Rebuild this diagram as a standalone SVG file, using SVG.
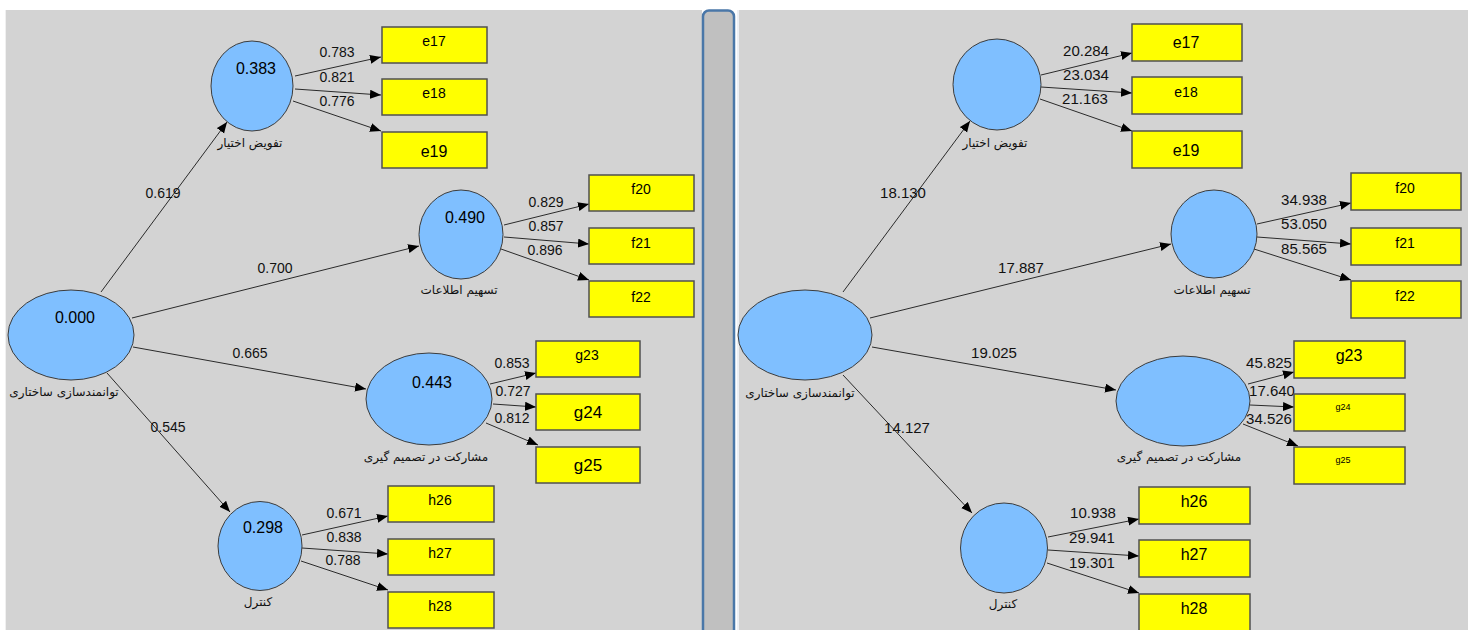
<svg xmlns="http://www.w3.org/2000/svg" width="1472" height="630" viewBox="0 0 1472 630">
<defs>
<marker id="arr" markerUnits="userSpaceOnUse" markerWidth="12" markerHeight="10" refX="11" refY="4.5" orient="auto">
<path d="M0,0 L11,4.5 L0,9 z" fill="#000"/>
</marker>
<style>
.panel{fill:#d3d3d3}
.lv{fill:#7fbfff;stroke:#3c3c3c;stroke-width:1}
.box{fill:#ffff00;stroke:#505050;stroke-width:1.5}
.e{stroke:#2a2a2a;stroke-width:1;fill:none;marker-end:url(#arr)}
.v{font-family:"Liberation Sans",Arial,sans-serif;font-size:16px;fill:#000;text-anchor:middle}
.pl{font-family:"Liberation Sans",Arial,sans-serif;font-size:14px;fill:#111;text-anchor:middle}
.pr{font-family:"Liberation Sans",Arial,sans-serif;font-size:15px;fill:#111;text-anchor:middle}
.b{font-family:"Liberation Sans",Arial,sans-serif;font-size:14px;fill:#000;text-anchor:middle}
.bb{font-family:"Liberation Sans",Arial,sans-serif;font-size:17px;fill:#000;text-anchor:middle}
.bs{font-family:"Liberation Sans",Arial,sans-serif;font-size:9px;fill:#000;text-anchor:middle}
.ar{font-family:"DejaVu Sans","Noto Sans",sans-serif;font-size:12px;fill:#111;text-anchor:middle}
</style>
</defs>
<rect width="1472" height="630" fill="#fff"/>
<rect class="panel" x="5" y="10" width="697" height="620"/>
<line x1="5.5" y1="10" x2="5.5" y2="630" stroke="#f0f0f0" stroke-width="1"/>
<rect class="panel" x="738" y="10" width="730" height="620"/>
<line x1="738" y1="10" x2="738" y2="630" stroke="#eef0f4" stroke-width="2"/>
<rect x="703" y="10.5" width="31" height="626" rx="6" fill="#c0c0c0" stroke="#4a77a8" stroke-width="2.5"/>

<g id="connectors">
<!-- left structural -->
<line class="e" x1="101" y1="292" x2="227" y2="122"/>
<line class="e" x1="132" y1="318" x2="419" y2="246"/>
<line class="e" x1="133" y1="347" x2="366" y2="389"/>
<line class="e" x1="107" y1="373" x2="230" y2="512"/>
<!-- left indicators -->
<line class="e" x1="295" y1="76" x2="381" y2="57"/>
<line class="e" x1="295" y1="89" x2="381" y2="95"/>
<line class="e" x1="293" y1="101" x2="381" y2="131"/>
<line class="e" x1="504" y1="225" x2="589" y2="204"/>
<line class="e" x1="504" y1="237" x2="589" y2="244"/>
<line class="e" x1="501" y1="249" x2="589" y2="280"/>
<line class="e" x1="490" y1="384" x2="536" y2="373"/>
<line class="e" x1="493" y1="404" x2="536" y2="407"/>
<line class="e" x1="486" y1="423" x2="538" y2="445"/>
<line class="e" x1="302" y1="535" x2="388" y2="516"/>
<line class="e" x1="302" y1="548" x2="388" y2="554"/>
<line class="e" x1="301" y1="561" x2="388" y2="590"/>
<!-- right structural -->
<line class="e" x1="843" y1="292" x2="970" y2="121"/>
<line class="e" x1="870" y1="318" x2="1171" y2="244"/>
<line class="e" x1="872" y1="347" x2="1116" y2="390"/>
<line class="e" x1="843" y1="375" x2="972" y2="513"/>
<!-- right indicators -->
<line class="e" x1="1041" y1="75" x2="1132" y2="53"/>
<line class="e" x1="1041" y1="87" x2="1132" y2="93"/>
<line class="e" x1="1040" y1="99" x2="1132" y2="131"/>
<line class="e" x1="1257" y1="224" x2="1351" y2="203"/>
<line class="e" x1="1257" y1="237" x2="1351" y2="244"/>
<line class="e" x1="1254" y1="249" x2="1351" y2="280"/>
<line class="e" x1="1248" y1="384" x2="1294" y2="372"/>
<line class="e" x1="1250" y1="405" x2="1294" y2="407"/>
<line class="e" x1="1243" y1="424" x2="1298" y2="446"/>
<line class="e" x1="1048" y1="537" x2="1139" y2="519"/>
<line class="e" x1="1048" y1="550" x2="1139" y2="556"/>
<line class="e" x1="1047" y1="563" x2="1139" y2="593"/>
<!-- labels left -->
<text class="pl" x="163" y="198">0.619</text>
<text class="pl" x="275" y="273">0.700</text>
<text class="pl" x="250" y="358">0.665</text>
<text class="pl" x="168" y="432">0.545</text>
<text class="pl" x="337" y="57">0.783</text>
<text class="pl" x="337" y="82">0.821</text>
<text class="pl" x="337" y="106">0.776</text>
<text class="pl" x="546" y="207">0.829</text>
<text class="pl" x="546" y="231">0.857</text>
<text class="pl" x="545" y="255">0.896</text>
<text class="pl" x="512" y="368">0.853</text>
<text class="pl" x="513" y="396">0.727</text>
<text class="pl" x="512" y="423">0.812</text>
<text class="pl" x="344" y="518">0.671</text>
<text class="pl" x="344" y="542">0.838</text>
<text class="pl" x="343" y="565">0.788</text>
<!-- labels right -->
<text class="pr" x="903" y="198">18.130</text>
<text class="pr" x="1021" y="273">17.887</text>
<text class="pr" x="994" y="358">19.025</text>
<text class="pr" x="907" y="433">14.127</text>
<text class="pr" x="1086" y="56">20.284</text>
<text class="pr" x="1086" y="80">23.034</text>
<text class="pr" x="1085" y="104">21.163</text>
<text class="pr" x="1304" y="205">34.938</text>
<text class="pr" x="1304" y="229">53.050</text>
<text class="pr" x="1304" y="254">85.565</text>
<text class="pr" x="1269" y="368">45.825</text>
<text class="pr" x="1272" y="396">17.640</text>
<text class="pr" x="1269" y="424">34.526</text>
<text class="pr" x="1093" y="518">10.938</text>
<text class="pr" x="1092" y="543">29.941</text>
<text class="pr" x="1092" y="568">19.301</text>
</g>

<!-- LEFT PANEL NODES -->
<g id="L-struct">
<ellipse class="lv" cx="71" cy="335" rx="63" ry="45"/>
<text class="v" x="75" y="323">0.000</text>
<text class="ar" x="64" y="396">توانمندسازی ساختاری</text>
</g>
<g id="L-tafviz">
<ellipse class="lv" cx="252" cy="86" rx="41" ry="45"/>
<text class="v" x="256" y="74">0.383</text>
<text class="ar" x="250" y="147">تفویض اختیار</text>
</g>
<g id="L-tasheem">
<ellipse class="lv" cx="461" cy="234.5" rx="42" ry="44.5"/>
<text class="v" x="465" y="223">0.490</text>
<text class="ar" x="459" y="294">تسهیم اطلاعات</text>
</g>
<g id="L-mosharekat">
<ellipse class="lv" cx="429" cy="399" rx="63" ry="46"/>
<text class="v" x="432" y="388">0.443</text>
<text class="ar" x="426" y="461">مشارکت در تصمیم گیری</text>
</g>
<g id="L-control">
<ellipse class="lv" cx="260" cy="546" rx="42" ry="44.5"/>
<text class="v" x="263" y="533">0.298</text>
<text class="ar" x="258" y="606">کنترل</text>
</g>
<g id="L-e17"><rect class="box" x="382" y="27" width="105" height="36"/><text class="b" x="434" y="46">e17</text></g>
<g id="L-e18"><rect class="box" x="382" y="79" width="105" height="36"/><text class="b" x="434" y="98">e18</text></g>
<g id="L-e19"><rect class="box" x="382" y="132" width="105" height="36"/><text class="v" x="434" y="157">e19</text></g>
<g id="L-f20"><rect class="box" x="589" y="175" width="105" height="36"/><text class="b" x="641" y="194">f20</text></g>
<g id="L-f21"><rect class="box" x="589" y="228" width="105" height="36"/><text class="b" x="641" y="248">f21</text></g>
<g id="L-f22"><rect class="box" x="589" y="281" width="105" height="36"/><text class="b" x="641" y="302">f22</text></g>
<g id="L-g23"><rect class="box" x="536" y="341" width="104" height="36"/><text class="b" x="587" y="360">g23</text></g>
<g id="L-g24"><rect class="box" x="536" y="394" width="104" height="36"/><text class="bb" x="588" y="418">g24</text></g>
<g id="L-g25"><rect class="box" x="536" y="447" width="104" height="36"/><text class="bb" x="588" y="471">g25</text></g>
<g id="L-h26"><rect class="box" x="388" y="486" width="106" height="36"/><text class="b" x="440" y="505">h26</text></g>
<g id="L-h27"><rect class="box" x="388" y="539" width="106" height="36"/><text class="b" x="440" y="558">h27</text></g>
<g id="L-h28"><rect class="box" x="388" y="592" width="106" height="36"/><text class="b" x="440" y="611">h28</text></g>

<!-- RIGHT PANEL NODES -->
<g id="R-struct">
<ellipse class="lv" cx="805" cy="335" rx="67" ry="45"/>
<text class="ar" x="800" y="397">توانمندسازی ساختاری</text>
</g>
<g id="R-tafviz">
<ellipse class="lv" cx="997" cy="84.5" rx="44" ry="45.5"/>
<text class="ar" x="995" y="147">تفویض اختیار</text>
</g>
<g id="R-tasheem">
<ellipse class="lv" cx="1214" cy="234" rx="43" ry="44"/>
<text class="ar" x="1212" y="294">تسهیم اطلاعات</text>
</g>
<g id="R-mosharekat">
<ellipse class="lv" cx="1183" cy="401" rx="67" ry="45"/>
<text class="ar" x="1179" y="461">مشارکت در تصمیم گیری</text>
</g>
<g id="R-control">
<ellipse class="lv" cx="1004" cy="548" rx="43.5" ry="45"/>
<text class="ar" x="1003" y="608">کنترل</text>
</g>
<g id="R-e17"><rect class="box" x="1132" y="24" width="110" height="37"/><text class="v" x="1186" y="48">e17</text></g>
<g id="R-e18"><rect class="box" x="1132" y="77" width="110" height="37"/><text class="b" x="1186" y="97">e18</text></g>
<g id="R-e19"><rect class="box" x="1132" y="131" width="110" height="37"/><text class="v" x="1186" y="156">e19</text></g>
<g id="R-f20"><rect class="box" x="1351" y="173" width="110" height="37"/><text class="b" x="1405" y="193">f20</text></g>
<g id="R-f21"><rect class="box" x="1351" y="228" width="110" height="37"/><text class="b" x="1405" y="248">f21</text></g>
<g id="R-f22"><rect class="box" x="1351" y="281" width="110" height="37"/><text class="b" x="1405" y="301">f22</text></g>
<g id="R-g23"><rect class="box" x="1294" y="341" width="111" height="37"/><text class="v" x="1349" y="361">g23</text></g>
<g id="R-g24"><rect class="box" x="1294" y="394" width="111" height="37"/><text class="bs" x="1343" y="410">g24</text></g>
<g id="R-g25"><rect class="box" x="1294" y="447" width="111" height="37"/><text class="bs" x="1343" y="463">g25</text></g>
<g id="R-h26"><rect class="box" x="1139" y="487" width="111" height="37"/><text class="v" x="1194" y="507">h26</text></g>
<g id="R-h27"><rect class="box" x="1139" y="540" width="111" height="37"/><text class="v" x="1194" y="560">h27</text></g>
<g id="R-h28"><rect class="box" x="1139" y="594" width="111" height="37"/><text class="v" x="1194" y="614">h28</text></g>
</svg>
